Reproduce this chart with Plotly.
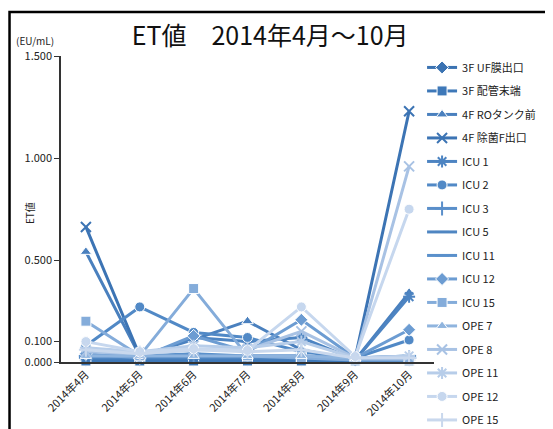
import plotly.graph_objects as go

months = ["2014年4月", "2014年5月", "2014年6月", "2014年7月", "2014年8月", "2014年9月", "2014年10月"]

series_names = ["3F UF膜出口", "3F 配管末端", "4F ROタンク前", "4F 除菌F出口",
                "ICU 1", "ICU 2", "ICU 3", "ICU 5", "ICU 11", "ICU 12", "ICU 15",
                "OPE 7", "OPE 8", "OPE 11", "OPE 12", "OPE 15"]

uf_3f = [0.010, 0.010, 0.010, 0.010, 0.010, 0.010, 0.010]
pipe_3f = [0.005, 0.005, 0.005, 0.005, 0.005, 0.005, 0.005]
ro_4f = [0.540, 0.030, 0.110, 0.200, 0.060, 0.010, 0.340]
filt_4f = [0.662, 0.030, 0.020, 0.020, 0.020, 0.020, 1.229]
icu1 = [0.030, 0.020, 0.120, 0.100, 0.120, 0.010, 0.320]
icu2 = [0.080, 0.270, 0.145, 0.120, 0.050, 0.020, 0.108]
icu3 = [0.030, 0.030, 0.030, 0.030, 0.030, 0.020, 0.020]
icu5 = [0.020, 0.020, 0.020, 0.020, 0.020, 0.010, 0.020]
icu11 = [0.030, 0.030, 0.040, 0.030, 0.030, 0.020, 0.030]
icu12 = [0.040, 0.020, 0.128, 0.050, 0.207, 0.020, 0.158]
icu15 = [0.200, 0.030, 0.360, 0.030, 0.020, 0.010, 0.010]
ope7 = [0.030, 0.030, 0.030, 0.030, 0.030, 0.020, 0.030]
ope8 = [0.050, 0.040, 0.060, 0.060, 0.150, 0.020, 0.959]
ope11 = [0.070, 0.050, 0.080, 0.070, 0.100, 0.020, 0.030]
ope12 = [0.100, 0.050, 0.065, 0.057, 0.270, 0.027, 0.749]
ope15 = [0.060, 0.040, 0.060, 0.050, 0.060, 0.020, 0.020]

values = [uf_3f, pipe_3f, ro_4f, filt_4f, icu1, icu2, icu3, icu5, icu11,
          icu12, icu15, ope7, ope8, ope11, ope12, ope15]

colors = ["#3B73B2", "#3E78B8", "#4A80BE", "#3C74B4", "#4D84C2", "#5189C6",
          "#5A8FCA", "#4F86C2", "#5A90CB", "#6C9CD2", "#84ACDA", "#8FB4DE",
          "#A8C2E4", "#B7CDE9", "#C6D7EE", "#C9D8ED"]
symbols = ["diamond", "square", "triangle-up", "x-thin-open", "asterisk-open",
           "circle", "cross-thin-open", "line-ew-open", "line-ew-open",
           "diamond", "square", "triangle-up", "x-thin-open", "asterisk-open",
           "circle", "cross-thin-open"]

ytick_vals = [0.0, 0.1, 0.5, 1.0, 1.5]
ytick_text = ["0.000", "0.100", "0.500", "1.000", "1.500"]

fig = go.Figure()
for i, (name, vals) in enumerate(zip(series_names, values)):
    sym = symbols[i]
    is_open = sym.endswith("open")
    fig.add_trace(go.Scatter(
        x=months, y=vals, name=name, mode="lines+markers",
        legendgroup=name,
        line=dict(color=colors[i], width=3),
        marker=dict(symbol=sym, size=10, color=colors[i],
                    line=dict(color=colors[i] if is_open else "white", width=2 if is_open else 1)),
        cliponaxis=False,
    ))

fig.update_layout(
    width=553, height=429,
    margin=dict(l=53, r=127, t=48, b=75, autoexpand=False),
    paper_bgcolor="white", plot_bgcolor="white",
    font=dict(family="Noto Sans CJK JP, Noto Sans, sans-serif", color="#222", size=11),
    title=dict(text="ET値　2014年4月～10月", x=0.474, xanchor="center",
               y=0.935, yanchor="middle",
               font=dict(size=25, color="#111", family="Noto Sans CJK JP, Noto Sans, sans-serif")),
    showlegend=True,
    legend=dict(x=0.968, xanchor="left", y=1.010, yanchor="top",
                font=dict(size=11, color="#222"), tracegroupgap=4.5,
                itemwidth=30, bgcolor="rgba(0,0,0,0)", maxheight=1),
    xaxis=dict(showline=True, linecolor="#333", linewidth=1.5, tickangle=-45,
               ticks="", showgrid=False, zeroline=False,
               tickfont=dict(size=11, color="#222")),
    yaxis=dict(range=[0, 1.5], showline=True, linecolor="#333", linewidth=1.5,
               ticks="outside", ticklen=5, tickcolor="#333",
               tickvals=ytick_vals, ticktext=ytick_text,
               showgrid=False, zeroline=False,
               tickfont=dict(size=11, color="#222")),
    shapes=[dict(type="rect", xref="paper", yref="paper",
                 x0=-0.138, x1=1.7, y0=-0.5, y1=1.144,
                 line=dict(color="black", width=2.5), layer="below")],
    annotations=[
        dict(text="(EU/mL)", xref="paper", yref="paper", x=-0.126, y=1.052,
             xanchor="left", yanchor="middle", showarrow=False,
             font=dict(size=10, color="#222")),
        dict(text="ET値", xref="paper", yref="paper", x=-0.083, y=0.487,
             xanchor="center", yanchor="middle", textangle=-90, showarrow=False,
             font=dict(size=10, color="#222")),
    ],
)

fig.write_html("out.html")
